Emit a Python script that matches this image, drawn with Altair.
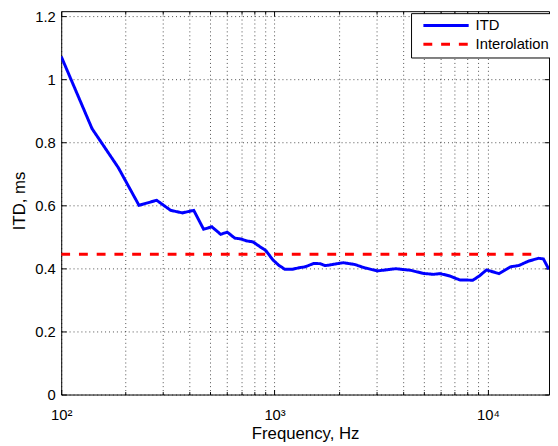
import altair as alt
import pandas as pd

# ---- data ----
freq_hz = [100, 139.5, 185, 231.5, 280, 326, 370, 418, 465, 508, 559, 600, 651, 699,
           737, 792, 849, 912, 979, 1050, 1119, 1211, 1299, 1394, 1523, 1636, 1723,
           1786, 2096, 2373, 2638, 3039, 3695, 4334, 4992, 5551, 5961, 6628, 7370,
           8492, 9120, 9851, 11270, 12757, 13950, 15505, 17250, 18200, 19310]
itd_ms = [1.072, 0.843, 0.720, 0.600, 0.616, 0.584, 0.576, 0.584, 0.524, 0.532,
          0.508, 0.515, 0.496, 0.493, 0.4875, 0.484, 0.470, 0.456, 0.428, 0.409,
          0.397, 0.397, 0.402, 0.405, 0.4156, 0.415, 0.409, 0.410, 0.418, 0.4125,
          0.402, 0.392, 0.399, 0.394, 0.384, 0.381, 0.3835, 0.376, 0.3635, 0.3625,
          0.376, 0.395, 0.3835, 0.405, 0.409, 0.423, 0.432, 0.430, 0.397]
interp_freq = [100, 17300]
interp_ms = [0.445, 0.445]
series_names = ["ITD", "Interolation"]
series_colors = ["#0000ff", "#ff0000"]
x_major = [100, 1000, 10000]
x_minor = [200, 300, 400, 500, 600, 700, 800, 900,
           2000, 3000, 4000, 5000, 6000, 7000, 8000, 9000]
y_ticks = [0, 0.2, 0.4, 0.6, 0.8, 1, 1.2]

df = pd.concat([
    pd.DataFrame({"freq": freq_hz, "itd": itd_ms, "series": series_names[0]}),
    pd.DataFrame({"freq": interp_freq, "itd": interp_ms, "series": series_names[1]}),
], ignore_index=True)
df_itd = df[df["series"] == series_names[0]]

FONT = "Liberation Sans"
W, H = 495, 389
x_scale = alt.Scale(type="log", domain=[100, 19340], nice=False)
y_scale = alt.Scale(domain=[0, 1.2156], nice=False, zero=False)

label_expr = ("datum.value == 100 ? '10\u00b2' : datum.value == 1000 ? '10\u00b3' : "
              "datum.value == 10000 ? '10\u2074' : ''")

legend = alt.Legend(title=None, orient="none", legendX=355, legendY=2,
                    strokeColor="black", fillColor="white", padding=5,
                    symbolType="M-4,0H4", symbolSize=132, symbolStrokeWidth=3,
                    symbolOffset=23, labelOffset=22.5,
                    labelFont=FONT, labelFontSize=15, labelColor="black",
                    rowPadding=3)

main = alt.Chart(df).mark_line(strokeWidth=3, clip=True).encode(
    x=alt.X("freq:Q", scale=x_scale, axis=alt.Axis(
        orient="bottom", values=x_major + x_minor, labelExpr=label_expr,
        grid=True, gridColor="#000", gridDash=[1, 3], gridOpacity=0.7,
        ticks=False, tickSize=0, domain=False,
        labelFont=FONT, labelFontSize=15, labelColor="black", labelPadding=25,
        labelBaseline="alphabetic", labelFlush=False, labelOverlap=False,
        title="Frequency, Hz", titleFont=FONT, titleFontSize=17,
        titleFontWeight="normal", titleColor="black", titleX=W / 2, titleY=45,
        titleBaseline="alphabetic", titleAlign="center")),
    y=alt.Y("itd:Q", scale=y_scale, axis=alt.Axis(
        orient="left", values=y_ticks, format="~g",
        grid=True, gridColor="#000", gridDash=[1, 3], gridOpacity=0.7,
        ticks=False, tickSize=0, domain=False,
        labelFont=FONT, labelFontSize=15, labelColor="black", labelPadding=6,
        title="ITD, ms", titleFont=FONT, titleFontSize=17,
        titleFontWeight="normal", titleColor="black", titleAngle=270,
        titleX=-37, titleY=192, titleBaseline="alphabetic", titleAlign="center")),
    color=alt.Color("series:N", scale=alt.Scale(domain=series_names, range=series_colors),
                    legend=legend),
    strokeDash=alt.StrokeDash("series:N",
                              scale=alt.Scale(domain=series_names, range=[[1, 0], [9, 9]]),
                              legend=legend),
)


def tick_layer(x_orient, x_vals, x_len, y_orient=None, y_len=5):
    xa = alt.Axis(orient=x_orient, values=x_vals, ticks=True, tickSize=x_len,
                  offset=-x_len, tickColor="black", tickWidth=1, labels=False,
                  domain=False, grid=False, title=None)
    if y_orient is None:
        ya = None
    else:
        ya = alt.Axis(orient=y_orient, values=y_ticks, ticks=True, tickSize=y_len,
                      offset=-y_len, tickColor="black", tickWidth=1, labels=False,
                      domain=False, grid=False, title=None)
    return alt.Chart(df_itd).mark_line(opacity=0).encode(
        x=alt.X("freq:Q", scale=x_scale, axis=xa),
        y=alt.Y("itd:Q", scale=y_scale, axis=ya),
    )


t1 = tick_layer("bottom", x_major, 5, "left")
t2 = tick_layer("top", x_major, 5, "right")
t3 = tick_layer("bottom", x_minor, 3)
t4 = tick_layer("top", x_minor, 3)

chart = alt.layer(main, t1, t2, t3, t4).resolve_axis(
    x="independent", y="independent"
).properties(
    width=W, height=H,
    padding={"left": 54, "top": 0, "right": 1, "bottom": 49},
    autosize=alt.AutoSizeParams(type="none"),
).configure_view(stroke="black", strokeWidth=1)

chart.save("out.html", embed_options={"renderer": "svg", "actions": False})
